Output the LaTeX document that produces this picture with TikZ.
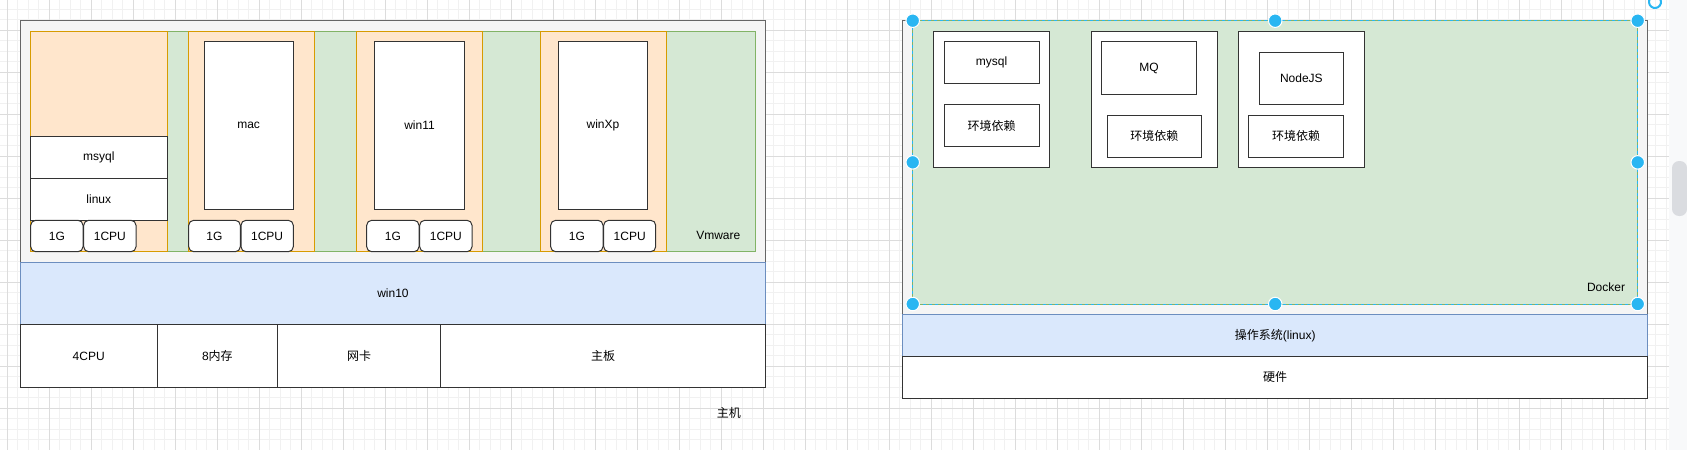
\documentclass[tikz,border=0pt]{standalone}
\usepackage{fontspec}
\setmainfont{Liberation Sans}
\newfontfamily\cjk{Noto Sans CJK SC}
\definecolor{cgrayfill}{HTML}{F5F5F5}
\definecolor{cgraydraw}{HTML}{666666}
\definecolor{cgreenfill}{HTML}{D5E8D4}
\definecolor{cgreendraw}{HTML}{82B366}
\definecolor{corangefill}{HTML}{FFE6CC}
\definecolor{corangedraw}{HTML}{D79B00}
\definecolor{cbluefill}{HTML}{DAE8FC}
\definecolor{cbluedraw}{HTML}{6C8EBF}
\definecolor{cdark}{HTML}{333333}
\definecolor{csel}{HTML}{29B6F2}
\definecolor{cminor}{HTML}{F1F1F1}
\definecolor{cmajor}{HTML}{DCDCDC}
\definecolor{cpanel}{HTML}{F8F9FA}
\definecolor{cscroll}{HTML}{DADCE0}
\tikzset{
  bx/.style={inner sep=0pt, outer sep=0pt, line width=1pt},
  graybox/.style={bx, draw=cgraydraw, fill=cgrayfill},
  greenbox/.style={bx, draw=cgreendraw, fill=cgreenfill},
  orangebox/.style={bx, draw=corangedraw, fill=corangefill},
  bluebox/.style={bx, draw=cbluedraw, fill=cbluefill},
  whitebox/.style={bx, draw=cdark, fill=white},
  resbox/.style={whitebox, rounded corners=5pt},
  lbl/.style={inner sep=0pt},
  handle/.style={circle, fill=csel, draw=white, line width=1pt, minimum size=13.5pt, inner sep=0pt},
  minorline/.style={cminor, line width=1pt},
  majorline/.style={cmajor, line width=1pt},
}
% style, x1, y1, x2, y2, name, text
\newcommand\rbox[7]{\node[#1, minimum width={#4-#2}, minimum height={#5-#3}] (#6) at ({(#2+#4)/2},{(#3+#5)/2}) {#7};}
\begin{document}
\begin{tikzpicture}[x=1pt,y=-1pt,font=\fontsize{12}{14}\selectfont]
\useasboundingbox (0,0) rectangle (1687,450);
\fill[white] (0,0) rectangle (1687,450);
% grid
\foreach \i in {0,...,158} \draw[minorline] ({7.3+10.5*\i},0) -- ({7.3+10.5*\i},450);
\foreach \j in {0,...,41} \draw[minorline] (0,{9.3+10.5*\j}) -- (1669,{9.3+10.5*\j});
\foreach \i in {0,...,39} \draw[majorline] ({7.3+42*\i},0) -- ({7.3+42*\i},450);
\foreach \j in {0,...,9} \draw[majorline] (0,{30.3+42*\j}) -- (1669,{30.3+42*\j});
\fill[cpanel] (1669,0) rectangle (1687,450);
\fill[cscroll, rounded corners=7pt] (1672,161) rectangle (1687,216);

% ---------- left: host ----------
\rbox{graybox}{20.3}{20.3}{765.7}{262.3}{host}{}
\rbox{greenbox}{30.3}{31.3}{755.7}{251.7}{vmware}{}
\rbox{orangebox}{30.3}{31.3}{167.3}{251.7}{vmA}{}
\rbox{orangebox}{188.3}{31.3}{314.7}{251.7}{vmB}{}
\rbox{orangebox}{356.3}{31.3}{482.3}{251.7}{vmC}{}
\rbox{orangebox}{540}{31.3}{666.3}{251.7}{vmD}{}
\rbox{whitebox}{30.3}{136}{167.3}{178.3}{msyql}{msyql}
\rbox{whitebox}{30.3}{178.3}{167.3}{220.3}{linux}{linux}
\rbox{whitebox}{204}{41.3}{293.3}{209.7}{mac}{mac}
\rbox{whitebox}{374.7}{41.3}{464.3}{209.7}{winB}{win11}
\rbox{whitebox}{558.3}{41.3}{647.7}{209.7}{winC}{winXp}
\rbox{resbox}{30.7}{220.3}{83}{251.7}{gA}{1G}
\rbox{resbox}{83.7}{220.3}{136}{251.7}{cpuA}{1CPU}
\rbox{resbox}{188.7}{220.3}{240.3}{251.7}{gB}{1G}
\rbox{resbox}{241}{220.3}{293.3}{251.7}{cpuB}{1CPU}
\rbox{resbox}{366.7}{220.3}{419}{251.7}{gC}{1G}
\rbox{resbox}{419.7}{220.3}{472}{251.7}{cpuC}{1CPU}
\rbox{resbox}{550.7}{220.3}{603}{251.7}{gD}{1G}
\rbox{resbox}{603.7}{220.3}{655.7}{251.7}{cpuD}{1CPU}
\node[lbl] (vmwarelbl) at (718.3,235.3) {Vmware};
\rbox{bluebox}{20.3}{262.3}{765.7}{324.7}{winten}{win10}
\rbox{whitebox}{20.3}{324.7}{157.2}{387.7}{hwA}{4CPU}
\rbox{whitebox}{157.2}{324.7}{277.6}{387.7}{hwB}{8{\cjk 内存}}
\rbox{whitebox}{277.6}{324.7}{440.7}{387.7}{hwC}{{\cjk 网卡}}
\rbox{whitebox}{440.7}{324.7}{765.7}{387.7}{hwD}{{\cjk 主板}}
\node[lbl] (hostlbl) at (728.8,413.3) {\cjk 主机};

% ---------- right: docker ----------
\rbox{graybox}{902.7}{20.3}{1647.7}{314.3}{hostR}{}
\rbox{greenbox}{912.7}{20.7}{1637.7}{304}{docker}{}
\rbox{whitebox}{933.7}{31.3}{1049.7}{167.7}{ctA}{}
\rbox{whitebox}{944.3}{41.7}{1039}{83.7}{mysql}{mysql}
\rbox{whitebox}{944.3}{104.7}{1039}{146.7}{envA}{\cjk 环境依赖}
\rbox{whitebox}{1091.3}{31.3}{1217.7}{167.7}{ctB}{}
\rbox{whitebox}{1101.7}{41.7}{1196.3}{94.3}{mq}{MQ}
\rbox{whitebox}{1107}{115.3}{1201.7}{157.3}{envB}{\cjk 环境依赖}
\rbox{whitebox}{1238.3}{31.3}{1364.7}{167.7}{ctC}{}
\rbox{whitebox}{1259}{52}{1343.7}{104.7}{nodejs}{NodeJS}
\rbox{whitebox}{1248.7}{115.3}{1343.7}{157.3}{envC}{\cjk 环境依赖}
\node[lbl] (dockerlbl) at (1606,287.3) {Docker};
\rbox{bluebox}{902.7}{314.3}{1647.7}{356.3}{os}{{\cjk 操作系统}(linux)}
\rbox{whitebox}{902.7}{356.3}{1647.7}{398.3}{hw}{{\cjk 硬件}}

% selection
\draw[csel, line width=1pt, dash pattern=on 3pt off 3pt] (docker.north west) rectangle (docker.south east);
\foreach \a in {north west,north,north east,west,east,south west,south,south east}
  \node[handle] at (docker.\a) {};
\draw[csel, line width=2pt] (1655,2) ++(-30:6) arc[start angle=-30, end angle=240, radius=6];
\end{tikzpicture}
\end{document}
